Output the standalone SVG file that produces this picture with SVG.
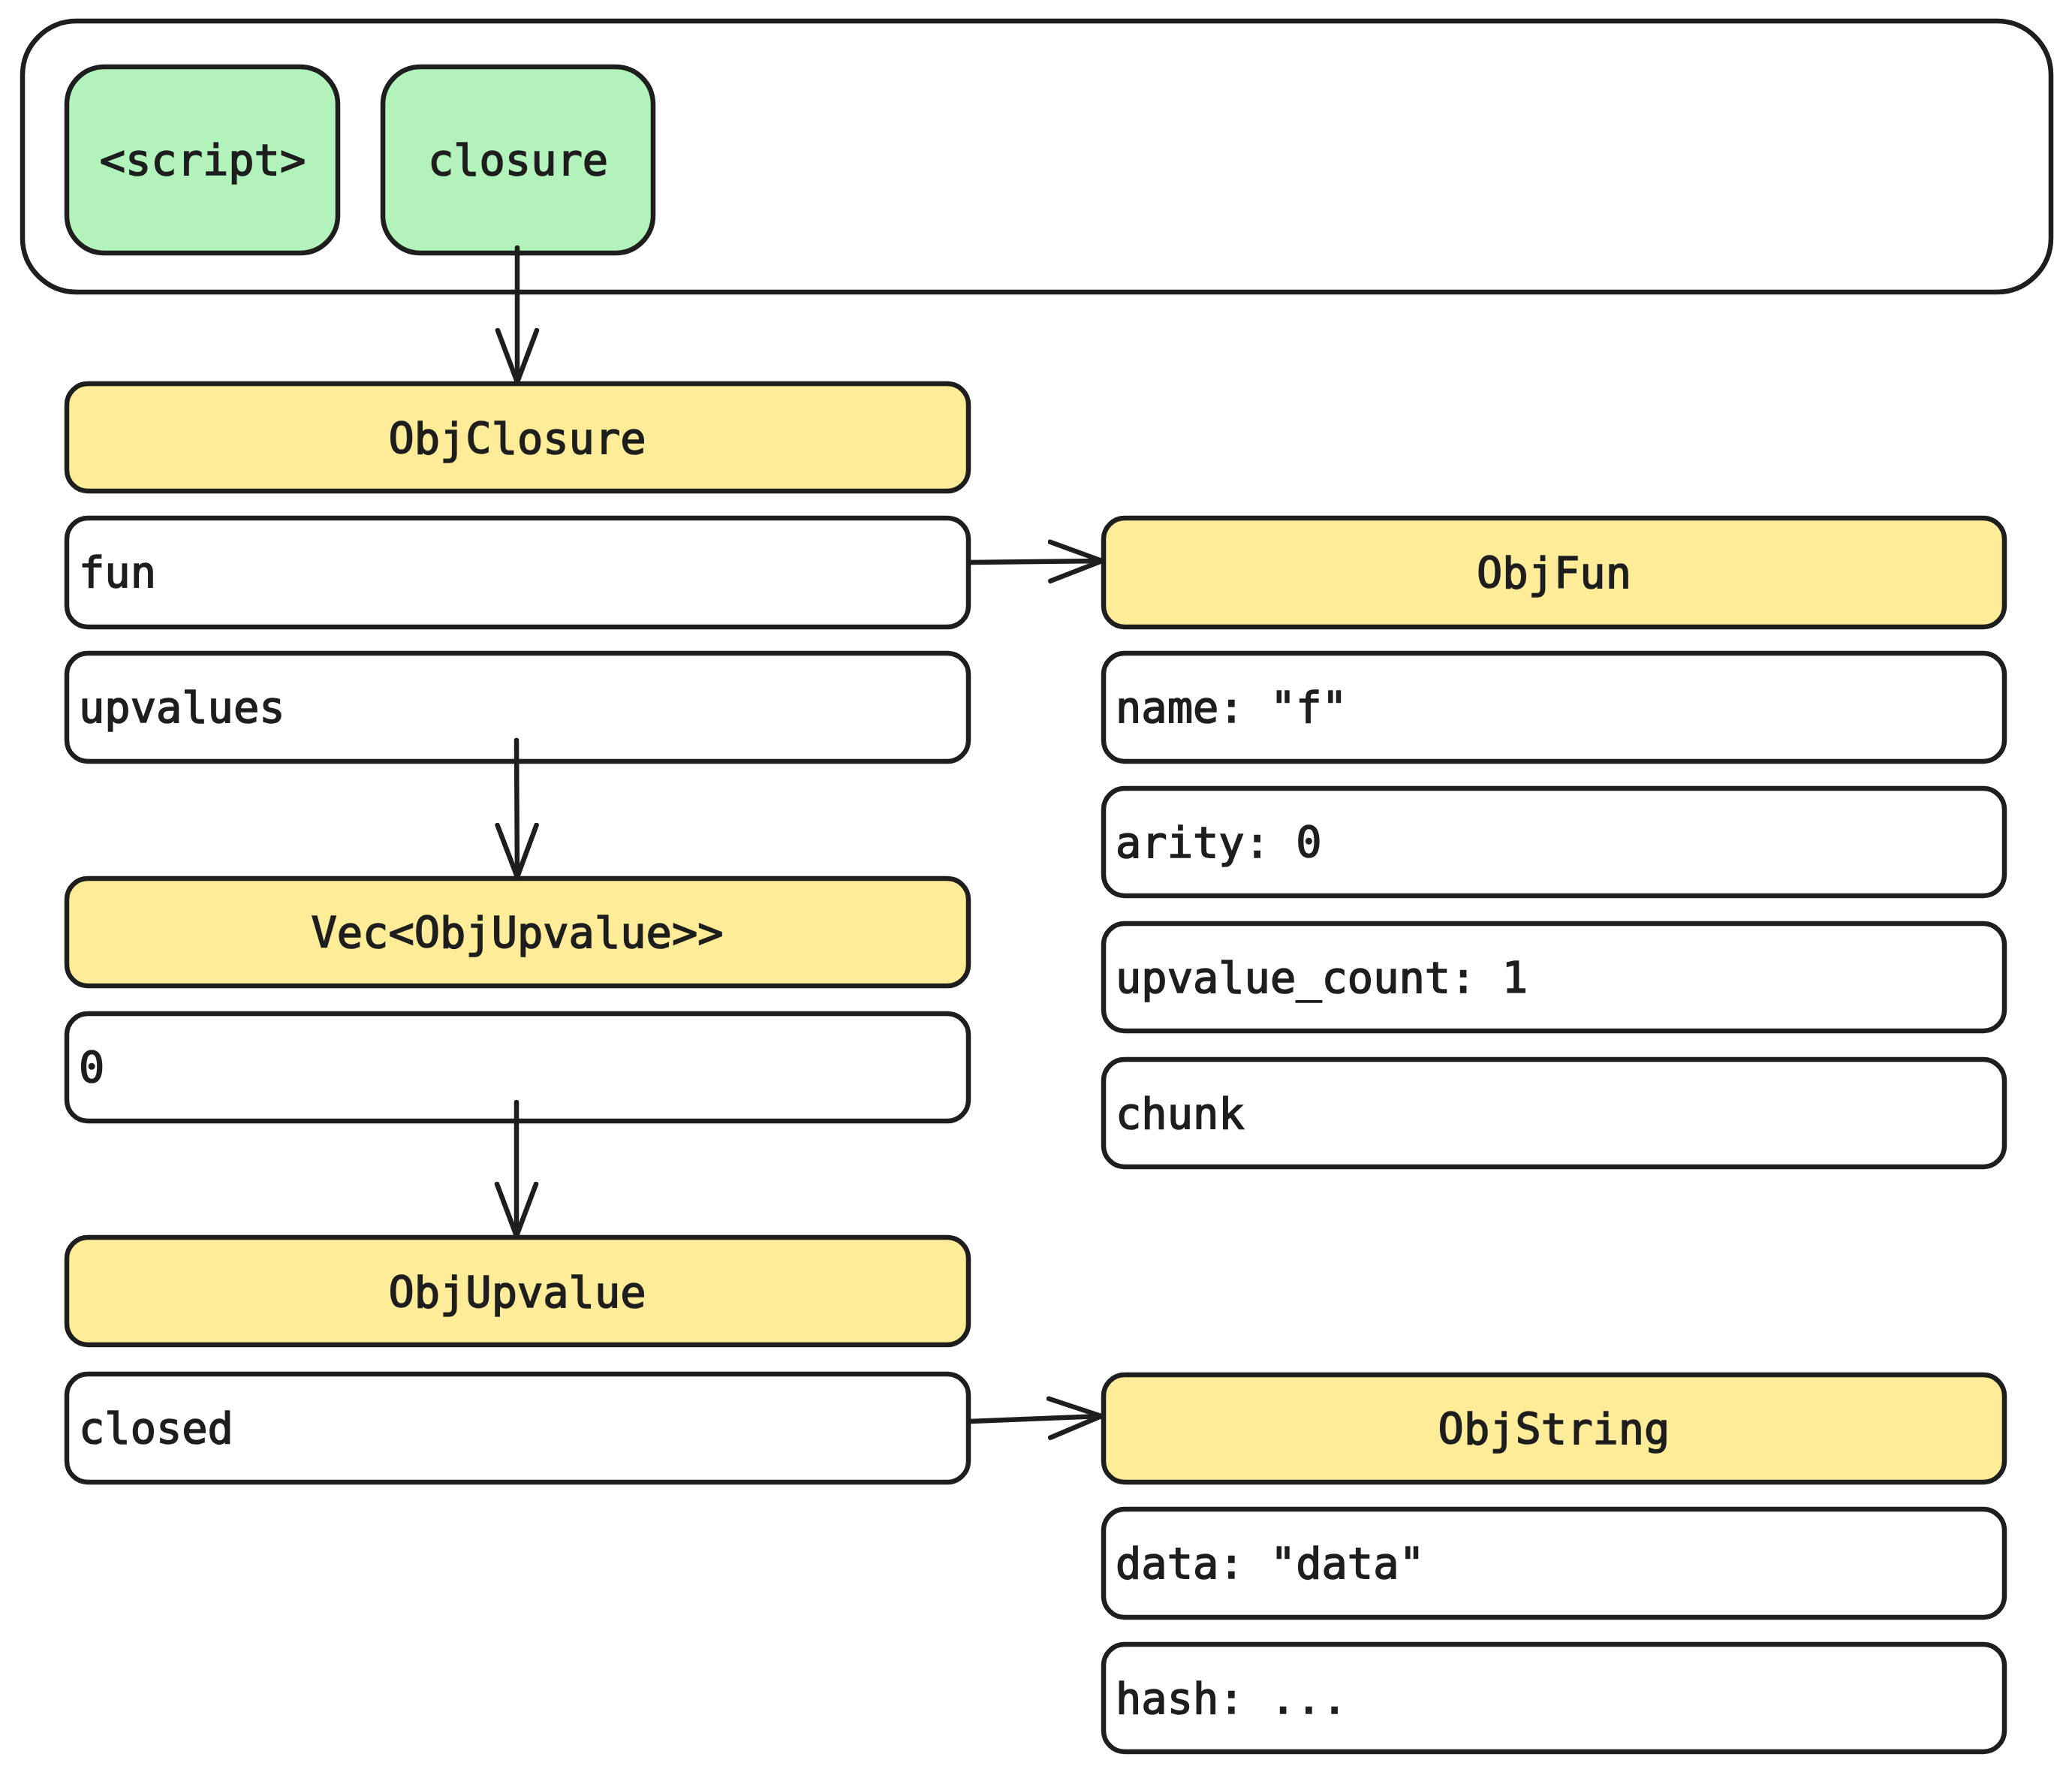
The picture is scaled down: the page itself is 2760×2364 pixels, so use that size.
<svg xmlns="http://www.w3.org/2000/svg" width="2760" height="2364" viewBox="0 0 2760 2364">
<defs>
<style>
.box{stroke:#1e1e1e;stroke-width:6.5;stroke-linejoin:round}
.g{fill:#b2f2bb}
.y{fill:#ffec99}
.w{fill:#ffffff}
.frame{fill:#ffffff;stroke:#1e1e1e;stroke-width:6.5}
text{font-family:"DejaVu Sans Mono","Liberation Mono",monospace;font-size:57px;fill:#1e1e1e;stroke:#1e1e1e;stroke-width:1.6}
.c{text-anchor:middle}
.l{text-anchor:start}
.conn{fill:none;stroke:#1e1e1e;stroke-width:6.5;stroke-linecap:round}
</style>
<marker id="arr" viewBox="0 0 80 60" markerUnits="userSpaceOnUse" markerWidth="80" markerHeight="60" refX="72" refY="30" orient="auto">
<path d="M3,4 L72,30 L3,56" fill="none" stroke="#1e1e1e" stroke-width="6.5" stroke-linecap="round" stroke-linejoin="round"/>
</marker>
</defs>
<rect width="2760" height="2364" fill="#ffffff"/>

<g id="frame">
<rect class="frame" x="30" y="28" width="2702" height="361" rx="72"/>
</g>

<g id="script">
<rect class="box g" x="89" y="89" width="361" height="248" rx="50"/>
<text class="c" x="270" y="233">&lt;script&gt;</text>
</g>
<g id="closure">
<rect class="box g" x="510" y="89" width="360" height="248" rx="50"/>
<text class="c" x="690" y="233">closure</text>
</g>

<g id="ObjClosure">
<rect class="box y" x="89" y="511" width="1201" height="143" rx="28"/>
<text class="c" x="689" y="604">ObjClosure</text>
</g>
<g id="fun">
<rect class="box w" x="89" y="690" width="1201" height="145" rx="28"/>
<text class="l" x="105" y="782">fun</text>
</g>
<g id="upvalues">
<rect class="box w" x="89" y="870" width="1201" height="144" rx="28"/>
<text class="l" x="105" y="962">upvalues</text>
</g>
<g id="Vec">
<rect class="box y" x="89" y="1170" width="1201" height="143" rx="28"/>
<text class="c" x="689" y="1262">Vec&lt;ObjUpvalue&gt;&gt;</text>
</g>
<g id="zero">
<rect class="box w" x="89" y="1350" width="1201" height="143" rx="28"/>
<text class="l" x="105" y="1442">0</text>
</g>
<g id="ObjUpvalue">
<rect class="box y" x="89" y="1648" width="1201" height="143" rx="28"/>
<text class="c" x="689" y="1741">ObjUpvalue</text>
</g>
<g id="closed">
<rect class="box w" x="89" y="1830" width="1201" height="144" rx="28"/>
<text class="l" x="105" y="1922">closed</text>
</g>

<g id="ObjFun">
<rect class="box y" x="1470" y="690" width="1200" height="145" rx="28"/>
<text class="c" x="2070" y="783">ObjFun</text>
</g>
<g id="name">
<rect class="box w" x="1470" y="870" width="1200" height="144" rx="28"/>
<text class="l" x="1486" y="962">name: "f"</text>
</g>
<g id="arity">
<rect class="box w" x="1470" y="1050" width="1200" height="143" rx="28"/>
<text class="l" x="1486" y="1142">arity: 0</text>
</g>
<g id="upvalue_count">
<rect class="box w" x="1470" y="1230" width="1200" height="143" rx="28"/>
<text class="l" x="1486" y="1322">upvalue_count: 1</text>
</g>
<g id="chunk">
<rect class="box w" x="1470" y="1411" width="1200" height="143" rx="28"/>
<text class="l" x="1486" y="1503">chunk</text>
</g>
<g id="ObjString">
<rect class="box y" x="1470" y="1831" width="1200" height="143" rx="28"/>
<text class="c" x="2070" y="1923">ObjString</text>
</g>
<g id="data">
<rect class="box w" x="1470" y="2010" width="1200" height="144" rx="28"/>
<text class="l" x="1486" y="2102">data: "data"</text>
</g>
<g id="hash">
<rect class="box w" x="1470" y="2190" width="1200" height="143" rx="28"/>
<text class="l" x="1486" y="2282">hash: ...</text>
</g>

<g id="connectors">
<path class="conn" d="M689,330 L689,509" marker-end="url(#arr)"/>
<path class="conn" d="M1292,749 L1468,747" marker-end="url(#arr)"/>
<path class="conn" d="M688,986 L689,1168" marker-end="url(#arr)"/>
<path class="conn" d="M688,1468 L688,1646" marker-end="url(#arr)"/>
<path class="conn" d="M1292,1893 L1467,1886" marker-end="url(#arr)"/>
</g>
</svg>
